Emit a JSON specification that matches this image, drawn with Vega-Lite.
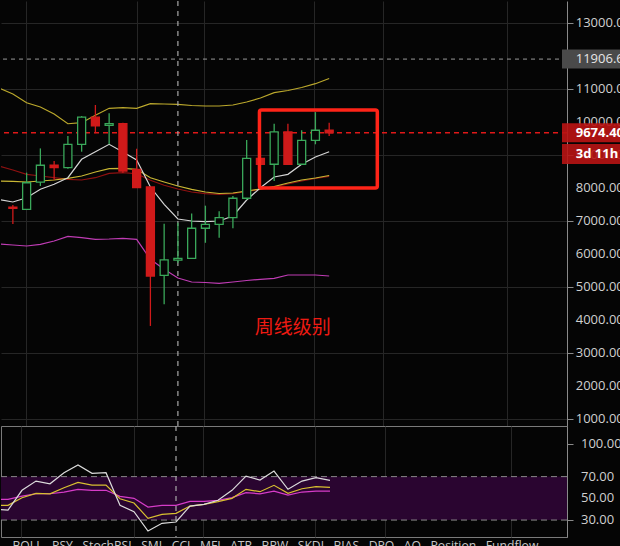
{
  "$schema": "https://vega.github.io/schema/vega-lite/v6.json",
  "usermeta": {"embedOptions": {"actions": false}},
  "background": "#050505",
  "padding": 0,
  "spacing": 0,
  "bounds": "flush",
  "resolve": {"scale": {"color": "independent", "stroke": "independent", "fill": "independent"}},
  "config": {
    "view": {"stroke": null},
    "font": "Open Sans",
    "axis": {
      "labelFont": "Open Sans",
      "labelColor": "#d0d0d0",
      "labelFontSize": 13,
      "gridColor": "#262626",
      "gridWidth": 1,
      "domainColor": "#8a8a8a",
      "tickColor": "#8a8a8a",
      "tickSize": 6,
      "labelPadding": 7
    }
  },
  "datasets": {
    "candles": [
      {"i": 0, "o": 7420, "c": 7380, "h": 7485, "l": 6910, "d": "down"},
      {"i": 1, "o": 7355, "c": 8160, "h": 8465, "l": 7355, "d": "up"},
      {"i": 2, "o": 8180, "c": 8690, "h": 9200, "l": 8060, "d": "up"},
      {"i": 3, "o": 8690, "c": 8615, "h": 8820, "l": 8240, "d": "down"},
      {"i": 4, "o": 8615, "c": 9325, "h": 9575, "l": 8585, "d": "up"},
      {"i": 5, "o": 9325, "c": 10150, "h": 10180, "l": 9100, "d": "up"},
      {"i": 6, "o": 10150, "c": 9880, "h": 10515, "l": 9660, "d": "down"},
      {"i": 7, "o": 9900, "c": 9950, "h": 10265, "l": 9325, "d": "up"},
      {"i": 8, "o": 9950, "c": 8515, "h": 9980, "l": 8465, "d": "down"},
      {"i": 9, "o": 8565, "c": 8010, "h": 9190, "l": 8010, "d": "down"},
      {"i": 10, "o": 8030, "c": 5330, "h": 8030, "l": 3820, "d": "down"},
      {"i": 11, "o": 5355, "c": 5820, "h": 6920, "l": 4475, "d": "up"},
      {"i": 12, "o": 5815, "c": 5870, "h": 6950, "l": 5735, "d": "up"},
      {"i": 13, "o": 5870, "c": 6780, "h": 7230, "l": 5870, "d": "up"},
      {"i": 14, "o": 6780, "c": 6900, "h": 7465, "l": 6340, "d": "up"},
      {"i": 15, "o": 6900, "c": 7100, "h": 7295, "l": 6495, "d": "up"},
      {"i": 16, "o": 7100, "c": 7690, "h": 7760, "l": 6780, "d": "up"},
      {"i": 17, "o": 7690, "c": 8900, "h": 9455, "l": 7635, "d": "up"},
      {"i": 18, "o": 8900, "c": 8720, "h": 8900, "l": 8720, "d": "down"},
      {"i": 19, "o": 8720, "c": 9700, "h": 9950, "l": 8210, "d": "up"},
      {"i": 20, "o": 9700, "c": 8720, "h": 9950, "l": 8720, "d": "down"},
      {"i": 21, "o": 8720, "c": 9445, "h": 9750, "l": 8720, "d": "up"},
      {"i": 22, "o": 9445, "c": 9750, "h": 10300, "l": 9325, "d": "up"},
      {"i": 23, "o": 9750, "c": 9674.4, "h": 9980, "l": 9575, "d": "down"}
    ],
    "bands": [
      {"i": -1, "ub": 11030, "mid": 8212, "red": 8667, "ma": 7650, "lb": 6303},
      {"i": 0, "ub": 10848, "mid": 8203, "red": 8545, "ma": 7576, "lb": 6273},
      {"i": 1, "ub": 10585, "mid": 8182, "red": 8415, "ma": 7706, "lb": 6242},
      {"i": 2, "ub": 10455, "mid": 8212, "red": 8364, "ma": 7961, "lb": 6294},
      {"i": 3, "ub": 10242, "mid": 8242, "red": 8312, "ma": 8112, "lb": 6394},
      {"i": 4, "ub": 9948, "mid": 8294, "red": 8264, "ma": 8312, "lb": 6536},
      {"i": 5, "ub": 9979, "mid": 8364, "red": 8242, "ma": 8870, "lb": 6494},
      {"i": 6, "ub": 10203, "mid": 8485, "red": 8312, "ma": 9100, "lb": 6445},
      {"i": 7, "ub": 10415, "mid": 8585, "red": 8445, "ma": 9324, "lb": 6455},
      {"i": 8, "ub": 10433, "mid": 8597, "red": 8464, "ma": 9091, "lb": 6476},
      {"i": 9, "ub": 10415, "mid": 8567, "red": 8433, "ma": 8848, "lb": 6445},
      {"i": 10, "ub": 10555, "mid": 8312, "red": 8233, "ma": 8030, "lb": 5839},
      {"i": 11, "ub": 10545, "mid": 8182, "red": 8082, "ma": 7506, "lb": 5536},
      {"i": 12, "ub": 10536, "mid": 8061, "red": 7970, "ma": 7061, "lb": 5273},
      {"i": 13, "ub": 10500, "mid": 7961, "red": 7879, "ma": 7000, "lb": 5152},
      {"i": 14, "ub": 10485, "mid": 7879, "red": 7827, "ma": 6979, "lb": 5136},
      {"i": 15, "ub": 10485, "mid": 7833, "red": 7809, "ma": 7000, "lb": 5112},
      {"i": 16, "ub": 10515, "mid": 7848, "red": 7827, "ma": 7152, "lb": 5152},
      {"i": 17, "ub": 10606, "mid": 7909, "red": 7894, "ma": 7636, "lb": 5197},
      {"i": 18, "ub": 10727, "mid": 7970, "red": 7955, "ma": 8009, "lb": 5233},
      {"i": 19, "ub": 10888, "mid": 8045, "red": 8030, "ma": 8333, "lb": 5264},
      {"i": 20, "ub": 10955, "mid": 8152, "red": 8121, "ma": 8415, "lb": 5364},
      {"i": 21, "ub": 11045, "mid": 8242, "red": 8212, "ma": 8718, "lb": 5364},
      {"i": 22, "ub": 11161, "mid": 8303, "red": 8288, "ma": 8939, "lb": 5364},
      {"i": 23, "ub": 11318, "mid": 8379, "red": 8355, "ma": 9100, "lb": 5333}
    ],
    "rsi": [
      {"i": -1, "w": 40, "y": 43.6, "m": 49.1},
      {"i": 0, "w": 39.2, "y": 43.6, "m": 49.1},
      {"i": 1, "w": 57.4, "y": 50.6, "m": 52.1},
      {"i": 2, "w": 65.9, "y": 54.6, "m": 54.2},
      {"i": 3, "w": 63.4, "y": 54.2, "m": 54.2},
      {"i": 4, "w": 73.6, "y": 59.8, "m": 55.8},
      {"i": 5, "w": 80.7, "y": 64.7, "m": 58.3},
      {"i": 6, "w": 73.0, "y": 62.2, "m": 57.4},
      {"i": 7, "w": 73.6, "y": 62.2, "m": 57.4},
      {"i": 8, "w": 43.6, "y": 49.6, "m": 51.8},
      {"i": 9, "w": 37.7, "y": 45.7, "m": 50.0},
      {"i": 10, "w": 19.9, "y": 31.6, "m": 42.0},
      {"i": 11, "w": 27.0, "y": 35.3, "m": 43.6},
      {"i": 12, "w": 28.2, "y": 36.2, "m": 43.6},
      {"i": 13, "w": 42.9, "y": 42.9, "m": 47.2},
      {"i": 14, "w": 44.5, "y": 44.5, "m": 47.2},
      {"i": 15, "w": 48.2, "y": 46.9, "m": 48.2},
      {"i": 16, "w": 57.4, "y": 50.0, "m": 50.6},
      {"i": 17, "w": 70.5, "y": 58.3, "m": 55.2},
      {"i": 18, "w": 66.9, "y": 56.1, "m": 54.2},
      {"i": 19, "w": 75.1, "y": 62.0, "m": 56.7},
      {"i": 20, "w": 58.3, "y": 54.6, "m": 53.0},
      {"i": 21, "w": 65.9, "y": 58.8, "m": 55.8},
      {"i": 22, "w": 69.0, "y": 60.7, "m": 56.7},
      {"i": 23, "w": 66.6, "y": 60.1, "m": 56.7}
    ],
    "priceTicks": [
      {"t": 1000}, {"t": 2000}, {"t": 3000}, {"t": 4000}, {"t": 5000}, {"t": 6000}, {"t": 7000},
      {"t": 8000}, {"t": 9000}, {"t": 10000}, {"t": 11000}, {"t": 12000}, {"t": 13000}
    ],
    "rsiTicks": [{"t": 30}, {"t": 50}, {"t": 70}, {"t": 100}]
  },
  "vconcat": [
    {
      "width": 566,
      "height": 425,
      "layer": [
        {
          "data": {"name": "bands"},
          "transform": [{"fold": ["red", "mid", "ub", "lb", "ma"], "as": ["k", "v"]}],
          "mark": {"type": "line", "strokeWidth": 1.2, "clip": true},
          "encoding": {
            "x": {"field": "i", "type": "quantitative", "title": null,
                  "scale": {"domain": [-0.5, 39.93], "nice": false, "zero": false},
                  "axis": {"orient": "top", "grid": true, "values": [0.93, 9, 13.93, 21.93, 26.93, 35.93], "domain": false, "ticks": false, "labels": false}},
            "y": {"field": "v", "type": "quantitative", "title": null,
                  "scale": {"domain": [788, 13667], "nice": false, "zero": false},
                  "axis": {"orient": "right", "grid": true, "labels": false, "values": [1000, 2000, 3000, 4000, 5000, 6000, 7000, 8000, 9000, 10000, 11000, 12000, 13000]}},
            "color": {"field": "k", "type": "nominal", "legend": null,
                      "scale": {"domain": ["red", "mid", "ub", "lb", "ma"], "range": ["#8e1111", "#c9b734", "#bba82c", "#bf3cb4", "#d6d6d6"]}},
            "order": {"field": "k", "type": "nominal"}
          }
        },
        {
          "data": {"values": [{}]},
          "mark": {"type": "rule", "stroke": "#9a9a9a", "strokeWidth": 1, "strokeDash": [4, 4]},
          "encoding": {"y": {"datum": 11906.6, "type": "quantitative"}}
        },
        {
          "data": {"values": [{}]},
          "mark": {"type": "rule", "stroke": "#e01818", "strokeWidth": 1.3, "strokeDash": [5, 4]},
          "encoding": {"y": {"datum": 9674.4, "type": "quantitative"}}
        },
        {
          "data": {"values": [{}]},
          "mark": {"type": "rule", "stroke": "#a8a8a8", "strokeWidth": 1.2, "strokeDash": [5, 5]},
          "encoding": {"x": {"datum": 12, "type": "quantitative"}}
        },
        {
          "data": {"name": "candles"},
          "mark": {"type": "rule", "strokeWidth": 1.3},
          "encoding": {
            "x": {"field": "i", "type": "quantitative"},
            "y": {"field": "l", "type": "quantitative"},
            "y2": {"field": "h"},
            "stroke": {"field": "d", "type": "nominal", "legend": null, "scale": {"domain": ["up", "down"], "range": ["#3aa85a", "#d01a1a"]}}
          }
        },
        {
          "data": {"name": "candles"},
          "mark": {"type": "bar", "orient": "vertical", "size": 8, "strokeWidth": 1.3},
          "encoding": {
            "x": {"field": "i", "type": "quantitative"},
            "y": {"field": "o", "type": "quantitative"},
            "y2": {"field": "c"},
            "stroke": {"field": "d", "type": "nominal", "legend": null, "scale": {"domain": ["up", "down"], "range": ["#3aa85a", "#d01a1a"]}},
            "fill": {"field": "d", "type": "nominal", "legend": null, "scale": {"domain": ["up", "down"], "range": ["#050505", "#d01a1a"]}}
          }
        },
        {
          "data": {"values": [{}]},
          "mark": {"type": "rect", "fillOpacity": 0, "stroke": "#ff2418", "strokeWidth": 3.5, "cornerRadius": 2},
          "encoding": {
            "x": {"datum": 17.93, "type": "quantitative"},
            "x2": {"datum": 26.5},
            "y": {"datum": 10364, "type": "quantitative"},
            "y2": {"datum": 8000}
          }
        },
        {
          "data": {"values": [{}]},
          "mark": {"type": "text", "text": "周线级别", "font": "Noto Sans CJK SC", "fontSize": 19, "color": "#ee1a12", "align": "center", "baseline": "middle"},
          "encoding": {
            "x": {"datum": 20.36, "type": "quantitative"},
            "y": {"datum": 3757, "type": "quantitative"}
          }
        },
        {
          "data": {"name": "priceTicks"},
          "mark": {"type": "text", "font": "Open Sans", "fontSize": 13, "color": "#d0d0d0", "align": "left", "baseline": "middle"},
          "encoding": {
            "x": {"datum": 40.93, "type": "quantitative"},
            "y": {"field": "t", "type": "quantitative"},
            "text": {"field": "t", "type": "quantitative", "format": ".2f"}
          }
        },
        {
          "data": {"values": [{}]},
          "mark": {"type": "rule", "stroke": "#4a4a4a", "strokeWidth": 19},
          "encoding": {
            "x": {"datum": 39.93, "type": "quantitative"},
            "x2": {"datum": 44.6},
            "y": {"datum": 11906.6, "type": "quantitative"}
          }
        },
        {
          "data": {"values": [{}]},
          "mark": {"type": "rule", "stroke": "#b81414", "strokeWidth": 19, "opacity": 0.92},
          "encoding": {
            "x": {"datum": 39.93, "type": "quantitative"},
            "x2": {"datum": 44.6},
            "y": {"datum": 9674.4, "type": "quantitative"}
          }
        },
        {
          "data": {"values": [{}]},
          "mark": {"type": "rule", "stroke": "#b81414", "strokeWidth": 20, "opacity": 0.9},
          "encoding": {
            "x": {"datum": 39.93, "type": "quantitative"},
            "x2": {"datum": 44.6},
            "y": {"datum": 9030, "type": "quantitative"}
          }
        },
        {
          "data": {"values": [{}]},
          "mark": {"type": "text", "text": "11906.6", "fontSize": 13, "color": "#e6e6e6", "align": "left", "baseline": "middle"},
          "encoding": {
            "x": {"datum": 40.93, "type": "quantitative"},
            "y": {"datum": 11906.6, "type": "quantitative"}
          }
        },
        {
          "data": {"values": [{}]},
          "mark": {"type": "text", "text": "9674.40", "fontSize": 13, "fontWeight": "bold", "color": "#ffffff", "align": "left", "baseline": "middle"},
          "encoding": {
            "x": {"datum": 40.93, "type": "quantitative"},
            "y": {"datum": 9674.4, "type": "quantitative"}
          }
        },
        {
          "data": {"values": [{}]},
          "mark": {"type": "text", "text": "3d 11h", "fontSize": 13, "fontWeight": "bold", "color": "#ffffff", "align": "left", "baseline": "middle"},
          "encoding": {
            "x": {"datum": 40.93, "type": "quantitative"},
            "y": {"datum": 9030, "type": "quantitative"}
          }
        }
      ]
    },
    {
      "width": 566,
      "height": 111,
      "view": {"stroke": "#7a7a7a", "strokeWidth": 1},
      "layer": [
        {
          "data": {"values": [{}]},
          "mark": {"type": "rect", "color": "#2a0530"},
          "encoding": {
            "y": {"datum": 30, "type": "quantitative", "title": null,
                  "scale": {"domain": [14.4, 116.6], "nice": false, "zero": false},
                  "axis": {"orient": "right", "grid": false, "labels": false, "values": [30, 50, 70, 100]}},
            "y2": {"datum": 70}
          }
        },
        {
          "data": {"values": [{"lv": 30}, {"lv": 70}]},
          "mark": {"type": "rule", "stroke": "#8a8a8a", "strokeWidth": 1, "strokeDash": [6, 4]},
          "encoding": {"y": {"field": "lv", "type": "quantitative"}}
        },
        {
          "data": {"values": [{}]},
          "mark": {"type": "rule", "stroke": "#a8a8a8", "strokeWidth": 1.2, "strokeDash": [5, 5]},
          "encoding": {"x": {"datum": 12, "type": "quantitative"}}
        },
        {
          "data": {"name": "rsi"},
          "transform": [{"fold": ["m", "y", "w"], "as": ["k", "v"]}],
          "mark": {"type": "line", "strokeWidth": 1.2, "clip": true},
          "encoding": {
            "x": {"field": "i", "type": "quantitative",
                  "scale": {"domain": [-0.5, 39.93], "nice": false, "zero": false},
                  "axis": {"orient": "bottom", "grid": true, "values": [0.93, 9, 13.93, 21.93, 26.93, 35.93], "domain": false, "ticks": false, "labels": false,
                           "title": "BOLL\u00a0\u00a0\u00a0PSY\u00a0\u00a0\u00a0StochRSI\u00a0\u00a0\u00a0SMI\u00a0\u00a0\u00a0CCI\u00a0\u00a0\u00a0MFI\u00a0\u00a0\u00a0ATR\u00a0\u00a0\u00a0BRW\u00a0\u00a0\u00a0SKDJ\u00a0\u00a0\u00a0BIAS\u00a0\u00a0\u00a0DPO\u00a0\u00a0\u00a0AO\u00a0\u00a0\u00a0Position\u00a0\u00a0\u00a0Fundflow",
                           "titleAnchor": "start", "titleAlign": "left", "titleX": 11, "titleFontSize": 12.2, "titleFontWeight": "normal", "titleColor": "#c8c8c8", "titleFont": "Open Sans", "titleBaseline": "top", "titlePadding": 2}},
            "y": {"field": "v", "type": "quantitative", "title": null},
            "color": {"field": "k", "type": "nominal", "legend": null,
                      "scale": {"domain": ["m", "y", "w"], "range": ["#d63cc8", "#d8c030", "#dcdcdc"]}},
            "order": {"field": "k", "type": "nominal"}
          }
        },
        {
          "data": {"name": "rsiTicks"},
          "mark": {"type": "text", "font": "Open Sans", "fontSize": 13, "color": "#d0d0d0", "align": "left", "baseline": "middle"},
          "encoding": {
            "x": {"datum": 40.93, "type": "quantitative"},
            "y": {"field": "t", "type": "quantitative"},
            "text": {"field": "t", "type": "quantitative", "format": ".2f"}
          }
        }
      ]
    }
  ]
}
